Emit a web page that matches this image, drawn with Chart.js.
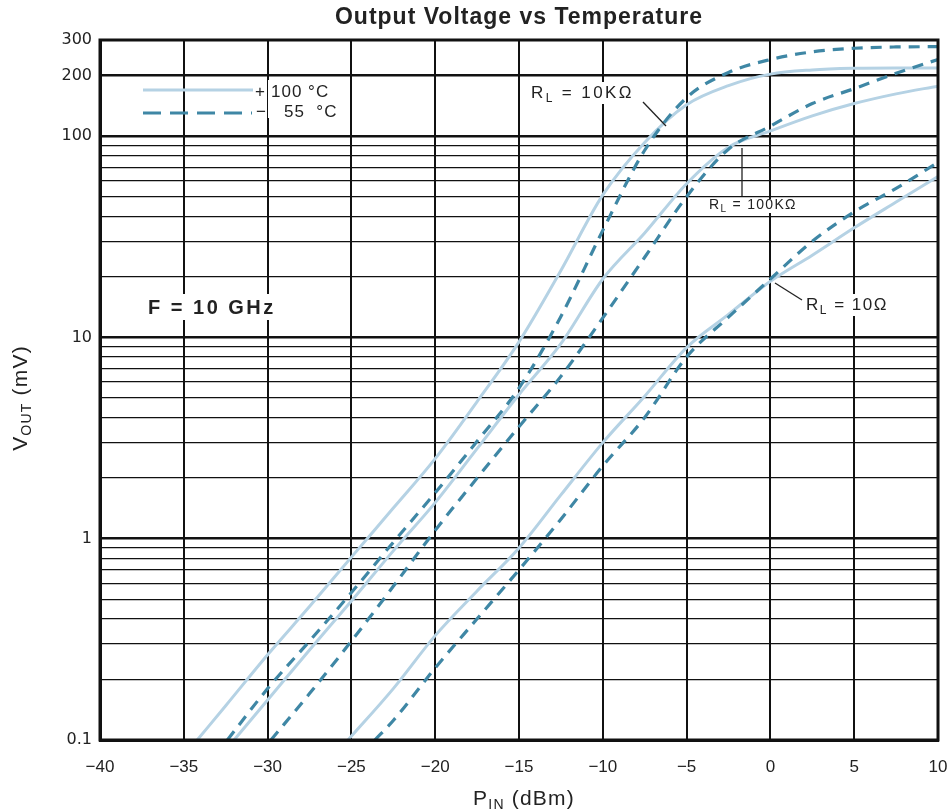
<!DOCTYPE html>
<html>
<head>
<meta charset="utf-8">
<script src="https://cdn.jsdelivr.net/npm/chart.js@4.4.1/dist/chart.umd.min.js"></script>
<style>
  html, body { margin: 0; padding: 0; background: #fff; }
  #wrap { width: 951px; height: 810px; }
</style>
</head>
<body>
<div id="wrap"><canvas id="chart" width="951" height="810"></canvas></div>
<script>
// P_IN (dBm) and V_OUT (mV), one pair of arrays per curve
const pin10kHot = [-34.2, -32.5, -30, -27.5, -25, -22.5, -20, -17.5, -15, -12.5, -10, -7.5, -5, -2.5, 0, 2.5, 5, 7.5, 10];
const vout10kHot = [0.1, 0.148, 0.265, 0.46, 0.81, 1.42, 2.5, 4.8, 9.5, 21.5, 51, 93, 143, 178, 203, 213, 217, 218, 218];

const pin10kCold = [-32.4, -30, -27.5, -25, -22.5, -20, -17.5, -15, -12.5, -10, -7.5, -5, -2.5, 0, 2.5, 5, 7.5, 10];
const vout10kCold = [0.1, 0.18, 0.31, 0.54, 0.96, 1.69, 3.05, 5.6, 12.7, 34, 85, 155, 207, 240, 262, 273, 277, 278];

const pin100kHot = [-32.0, -30, -27.5, -25, -22.5, -20, -17.5, -15, -12.5, -10, -7.5, -5, -2.5, 0, 2.5, 5, 7.5, 10];
const vout100kHot = [0.1, 0.158, 0.28, 0.49, 0.87, 1.51, 2.8, 5.2, 9.3, 19.5, 33, 58, 88, 106, 126, 145, 162, 177];

const pin100kCold = [-29.8, -27.5, -25, -22.5, -20, -17.5, -15, -12.5, -10, -7.5, -5, -2.5, 0, 2.5, 5, 7.5, 10];
const vout100kCold = [0.1, 0.17, 0.31, 0.58, 1.1, 2.0, 3.6, 6.4, 12.5, 25, 50, 86, 112, 145, 172, 205, 240];

const pin10Hot = [-25.2, -22.5, -20, -17.5, -15, -12.5, -10, -7.5, -5, -2.5, 0, 2.5, 5, 7.5, 10];
const vout10Hot = [0.1, 0.18, 0.33, 0.55, 0.9, 1.65, 3.0, 5.1, 8.9, 13, 19, 25.6, 35, 47, 63];

const pin10Cold = [-23.6, -22.5, -20, -17.5, -15, -12.5, -10, -7.5, -5, -2.5, 0, 2.5, 5, 7.5, 10];
const vout10Cold = [0.1, 0.125, 0.228, 0.4, 0.7, 1.25, 2.3, 4.0, 8.0, 12.6, 19.5, 30, 42, 55, 74];

// axes
const xTicks = [-40, -35, -30, -25, -20, -15, -10, -5, 0, 5, 10];
const xLabels = ["\u221240", "\u221235", "\u221230", "\u221225", "\u221220", "\u221215", "\u221210", "\u22125", "0", "5", "10"];
const yTicks = [0.1, 0.2, 0.3, 0.4, 0.5, 0.6, 0.7, 0.8, 0.9,
                1, 2, 3, 4, 5, 6, 7, 8, 9,
                10, 20, 30, 40, 50, 60, 70, 80, 90,
                100, 200, 300];
const yLabels = [0.1, 1, 10, 100, 200, 300];
const yLabelText = ["0.1", "1", "10", "100", "200", "300"];
const yHeavy = [1, 10, 100, 200];

const HOT = "#b5d2e4";
const COLD = "#3f87a5";
const DASH = [11, 8];
const SANS = "'Liberation Sans', Arial, sans-serif";

function xy(xs, ys) {
  return xs.map((x, i) => ({ x: x, y: ys[i] }));
}

function curve(label, xs, ys, cold) {
  return {
    label: label,
    data: xy(xs, ys),
    borderColor: cold ? COLD : HOT,
    borderWidth: cold ? 3.2 : 3,
    borderDash: cold ? DASH : [],
    pointRadius: 0,
    fill: false,
    cubicInterpolationMode: "monotone",
    order: cold ? 0 : 1,
  };
}

function textSub(ctx, x, y, parts, align, spacing) {
  // parts: [text, font, dy]
  ctx.letterSpacing = (spacing || 0) + "px";
  let total = 0;
  parts.forEach((p) => { ctx.font = p[1]; total += ctx.measureText(p[0]).width; });
  let cx = align === "left" ? x : x - total / 2;
  parts.forEach((p) => {
    ctx.font = p[1];
    ctx.fillText(p[0], cx, y + (p[2] || 0));
    cx += ctx.measureText(p[0]).width;
  });
  ctx.letterSpacing = "0px";
  return total;
}

function whiteBox(ctx, x, y, w, h) {
  ctx.fillStyle = "#fff";
  ctx.fillRect(x, y, w, h);
}

const decorations = {
  id: "decorations",
  afterDatasetsDraw(chart) {
    const ctx = chart.ctx;
    ctx.save();
    ctx.textBaseline = "alphabetic";

    // legend
    ctx.lineWidth = 3;
    ctx.strokeStyle = HOT;
    ctx.setLineDash([]);
    ctx.beginPath(); ctx.moveTo(143, 90); ctx.lineTo(253, 90); ctx.stroke();
    ctx.strokeStyle = COLD;
    ctx.lineWidth = 3.2;
    ctx.setLineDash([18, 9]);
    ctx.beginPath(); ctx.moveTo(143, 113); ctx.lineTo(252, 113); ctx.stroke();
    ctx.setLineDash([]);
    whiteBox(ctx, 268, 80, 76, 38);
    ctx.fillStyle = "#222";
    ctx.font = "17px " + SANS;
    ctx.letterSpacing = "1px";
    ctx.fillText("+", 255, 97);
    ctx.fillText("100 \u00b0C", 271, 97);
    ctx.fillText("\u2212", 256, 117);
    ctx.fillText("55  \u00b0C", 284, 117);
    ctx.letterSpacing = "0px";

    // F = 10 GHz
    whiteBox(ctx, 146, 294, 136, 26);
    ctx.fillStyle = "#222";
    ctx.font = "bold 20px " + SANS;
    ctx.letterSpacing = "2.5px";
    ctx.fillText("F = 10 GHz", 148, 314);
    ctx.letterSpacing = "0px";

    const big = "17px " + SANS;
    const bigSub = "12px " + SANS;
    const sml = "14px " + SANS;
    const smlSub = "10px " + SANS;

    // R_L = 10KΩ
    whiteBox(ctx, 528, 82, 112, 22);
    ctx.fillStyle = "#222";
    textSub(ctx, 531, 98, [["R", big], ["L", bigSub, 4], [" = 10K\u03a9", big]], "left", 2.4);
    ctx.strokeStyle = "#222"; ctx.lineWidth = 1.3;
    ctx.beginPath(); ctx.moveTo(643, 102); ctx.lineTo(666, 126); ctx.stroke();

    // R_L = 100KΩ
    whiteBox(ctx, 706, 199, 102, 14);
    ctx.fillStyle = "#222";
    textSub(ctx, 709, 209, [["R", sml], ["L", smlSub, 3], [" = 100K\u03a9", sml]], "left", 1.3);
    ctx.beginPath(); ctx.moveTo(742, 148); ctx.lineTo(742, 196); ctx.stroke();

    // R_L = 10Ω
    whiteBox(ctx, 804, 294, 90, 22);
    ctx.fillStyle = "#222";
    textSub(ctx, 806, 310, [["R", big], ["L", bigSub, 4], [" = 10\u03a9", big]], "left", 1.5);
    ctx.beginPath(); ctx.moveTo(775, 283); ctx.lineTo(802, 300); ctx.stroke();

    ctx.restore();
  },
  afterDraw(chart) {
    const ctx = chart.ctx;
    const a = chart.chartArea;
    ctx.save();
    ctx.strokeStyle = "#111";
    ctx.lineWidth = 3;
    ctx.strokeRect(a.left, a.top, a.right - a.left, a.bottom - a.top);

    ctx.fillStyle = "#222";
    ctx.textBaseline = "alphabetic";
    ctx.font = "bold 23px " + SANS;
    ctx.letterSpacing = "1px";
    ctx.textAlign = "center";
    ctx.fillText("Output Voltage vs Temperature", 519, 24);
    ctx.textAlign = "left";
    ctx.letterSpacing = "0px";

    const f = "21px " + SANS;
    const fs = "14px " + SANS;
    textSub(ctx, 524, 805, [["P", f], ["IN", fs, 4], [" (dBm)", f]], "center", 1.2);

    ctx.translate(27, 398);
    ctx.rotate(-Math.PI / 2);
    textSub(ctx, 0, 0, [["V", f], ["OUT", fs, 4], [" (mV)", f]], "center", 1.2);
    ctx.restore();
  },
};

new Chart(document.getElementById("chart"), {
  type: "line",
  data: {
    datasets: [
      curve("10k +100", pin10kHot, vout10kHot, false),
      curve("100k +100", pin100kHot, vout100kHot, false),
      curve("10 +100", pin10Hot, vout10Hot, false),
      curve("10k -55", pin10kCold, vout10kCold, true),
      curve("100k -55", pin100kCold, vout100kCold, true),
      curve("10 -55", pin10Cold, vout10Cold, true),
    ],
  },
  options: {
    responsive: false,
    devicePixelRatio: 1,
    animation: false,
    layout: { padding: { top: 40, right: 13, left: 0, bottom: 0 } },
    plugins: { legend: { display: false }, tooltip: { enabled: false }, title: { display: false } },
    scales: {
      x: {
        type: "linear",
        min: -40,
        max: 10,
        afterBuildTicks: (s) => { s.ticks = xTicks.map((v) => ({ value: v })); },
        afterFit: (s) => { s.height = 70; s.paddingLeft = 0; s.paddingRight = 0; },
        ticks: {
          autoSkip: false,
          maxRotation: 0,
          padding: 17,
          color: "#222",
          font: { family: SANS, size: 17 },
          callback: (v, i) => xLabels[i],
        },
        grid: { color: "#111", lineWidth: 2, drawTicks: false },
        border: { display: true, color: "#111", width: 3 },
      },
      y: {
        type: "logarithmic",
        min: 0.1,
        max: 300,
        afterBuildTicks: (s) => { s.ticks = yTicks.map((v) => ({ value: v })); },
        afterFit: (s) => { s.width = 100; s.paddingTop = 0; s.paddingBottom = 0; },
        ticks: {
          autoSkip: false,
          padding: 8,
          color: "#222",
          font: { family: "'DejaVu Sans', sans-serif", size: 16 },
          callback: (v) => {
            const k = yLabels.indexOf(v);
            return k >= 0 ? yLabelText[k] : "";
          },
        },
        grid: {
          color: "#111",
          drawTicks: false,
          lineWidth: (c) => (c.tick && yHeavy.includes(c.tick.value) ? 2.4 : 1.3),
        },
        border: { display: true, color: "#111", width: 3 },
      },
    },
  },
  plugins: [decorations],
});
</script>
</body>
</html>
